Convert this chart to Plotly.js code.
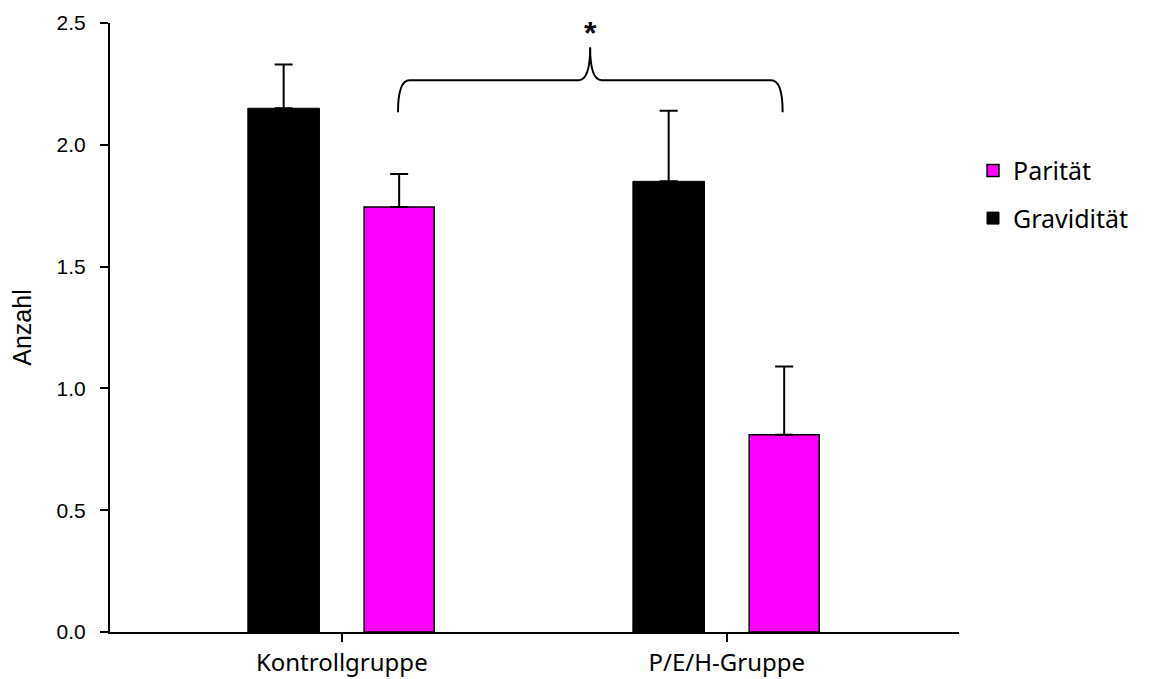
<!DOCTYPE html>
<html>
<head>
<meta charset="utf-8">
<script src="https://cdn.plot.ly/plotly-3.0.1.min.js"></script>
<style>html,body{margin:0;padding:0;background:#fff;}#chart{width:1154px;height:679px;}</style>
</head>
<body>
<div id="chart"></div>
<script>
// Data
var categories = ["Kontrollgruppe", "P/E/H-Gruppe"];
var categoryPositions = [0, 1];
var gravidity = [2.15, 1.85];
var gravidityErr = [0.18, 0.29];
var parity = [1.745, 0.81];
var parityErr = [0.135, 0.28];
var yTicks = [0, 0.5, 1.0, 1.5, 2.0, 2.5];
var significanceLabel = "<b>*</b>";

var sansLabel = "Noto Sans, Open Sans, sans-serif";
var arial = "Liberation Sans, Arial, sans-serif";

var traceGrav = {
  type: "bar",
  name: "Gravidität",
  x: categoryPositions,
  y: gravidity,
  width: 0.186,
  offset: -0.244,
  marker: {color: "#000000", line: {color: "#000000", width: 1}},
  error_y: {type: "data", array: gravidityErr, arrayminus: [0, 0], symmetric: false,
            color: "#000000", thickness: 2, width: 9},
  legendrank: 2,
  legendgroup: "g",
  hoverinfo: "skip"
};
var tracePar = {
  type: "bar",
  name: "Parität",
  x: categoryPositions,
  y: parity,
  width: 0.182,
  offset: 0.058,
  marker: {color: "#ff00ff", line: {color: "#000000", width: 1.5}},
  error_y: {type: "data", array: parityErr, arrayminus: [0, 0], symmetric: false,
            color: "#000000", thickness: 2, width: 9},
  legendrank: 1,
  legendgroup: "p",
  hoverinfo: "skip"
};

var bx0 = 0.146, bx1 = 1.145, bxc = 0.645;
var by0 = 2.134, byh = 2.265, byp = 2.40;
var bracePath = "M" + bx0 + "," + by0 +
  " Q" + bx0 + "," + byh + " " + (bx0 + 0.03) + "," + byh +
  " L" + (bxc - 0.03) + "," + byh +
  " Q" + bxc + "," + byh + " " + bxc + "," + byp +
  " Q" + bxc + "," + byh + " " + (bxc + 0.03) + "," + byh +
  " L" + (bx1 - 0.03) + "," + byh +
  " Q" + bx1 + "," + byh + " " + bx1 + "," + by0;

var layout = {
  width: 1154, height: 679,
  margin: {l: 110, r: 195, t: 23, b: 47},
  paper_bgcolor: "#ffffff",
  plot_bgcolor: "#ffffff",
  showlegend: true,
  barmode: "overlay",
  xaxis: {
    range: [-0.602, 1.603],
    tickvals: categoryPositions,
    ticktext: categories,
    ticks: "outside", ticklen: 8, tickwidth: 2, tickcolor: "#000",
    ticklabelstandoff: 0,
    showline: true, linecolor: "#000", linewidth: 2,
    showgrid: false, zeroline: false,
    tickfont: {family: sansLabel, size: 24, color: "#000"}
  },
  yaxis: {
    range: [0, 2.5],
    tickvals: yTicks,
    tickformat: ".1f",
    ticks: "outside", ticklen: 8, tickwidth: 2, tickcolor: "#000",
    ticklabelstandoff: 10,
    showline: true, linecolor: "#000", linewidth: 2,
    showgrid: false, zeroline: false,
    tickfont: {family: arial, size: 21, color: "#000"},
    title: {text: "Anzahl", font: {family: arial, size: 25, color: "#000"}, standoff: 18}
  },
  legend: {
    x: 1.0165, y: 0.795, xanchor: "left", yanchor: "top",
    font: {family: sansLabel, size: 25, color: "#000"},
    traceorder: "grouped",
    tracegroupgap: 12,
    bgcolor: "rgba(0,0,0,0)"
  },
  shapes: [{
    type: "path", xref: "x", yref: "y", path: bracePath,
    line: {color: "#000", width: 2}
  }],
  annotations: [{
    x: bxc, y: 2.458, xref: "x", yref: "y", text: significanceLabel,
    showarrow: false, font: {family: arial, size: 32, color: "#000"}
  }]
};

Plotly.newPlot("chart", [tracePar, traceGrav], layout, {displayModeBar: false, staticPlot: true});
</script>
</body>
</html>
